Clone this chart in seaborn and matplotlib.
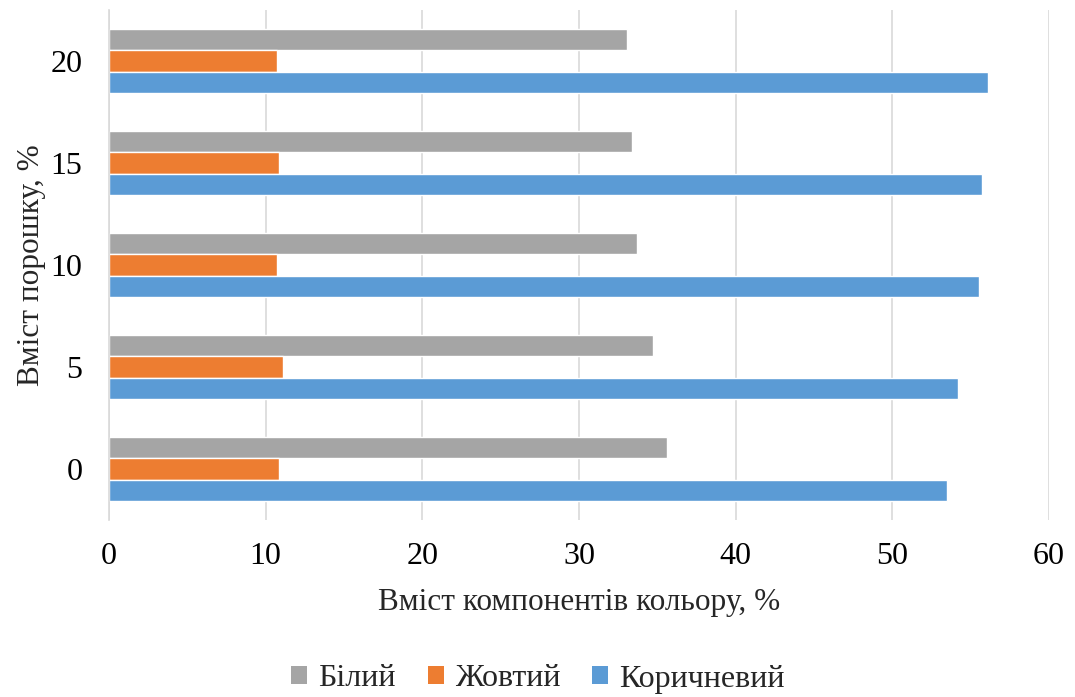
import matplotlib
matplotlib.use("Agg")
import matplotlib.pyplot as plt
import seaborn as sns
import pandas as pd
from matplotlib.patches import Patch

# Powder content levels (%), listed top to bottom
powder = ["20", "15", "10", "5", "0"]
series = ["Білий", "Жовтий", "Коричневий"]
white = [33.06, 33.4, 33.68, 34.7, 35.6]
yellow = [10.74, 10.87, 10.74, 11.08, 10.87]
brown = [56.13, 55.72, 55.51, 54.21, 53.51]
colors = ["#A5A5A5", "#ED7D31", "#5B9BD5"]

df = pd.DataFrame({
    "powder": powder * 3,
    "component": [s for s in series for _ in powder],
    "value": white + yellow + brown,
})

sns.set_theme(style="white")
plt.rcParams["font.family"] = ["Liberation Serif", "DejaVu Serif"]

fig = plt.figure(figsize=(10.75, 6.97), dpi=100)
ax = fig.add_axes([109 / 1075, 1 - 520 / 697, 940 / 1075, 510 / 697])

sns.barplot(data=df, x="value", y="powder", hue="component",
            order=powder, hue_order=series, palette=colors,
            orient="h", width=0.62, dodge=True, saturation=1,
            legend=False, ax=ax)

ax.set_xlim(0, 60)
ax.set_ylim(4.5, -0.5)
ax.set_xticks(range(0, 61, 10))
ax.xaxis.grid(True, color="#D9D9D9", linewidth=1.2)
ax.set_axisbelow(True)
for s in ["top", "right", "bottom"]:
    ax.spines[s].set_visible(False)
ax.spines["left"].set_color("#D9D9D9")
ax.spines["left"].set_linewidth(1.2)
ax.tick_params(axis="both", length=0, labelsize=23, colors="black")
ax.tick_params(axis="x", pad=16)
ax.tick_params(axis="y", pad=19)
ax.set_xlabel("Вміст компонентів кольору, %", fontsize=22.5, labelpad=12)
ax.set_ylabel("Вміст порошку, %", fontsize=22.5, labelpad=3)

handles = [Patch(facecolor=c, edgecolor="none") for c in colors]
fig.legend(handles, series, loc="center", bbox_to_anchor=(538 / 1075, 1 - 679 / 697),
           ncol=3, frameon=False, fontsize=23, handlelength=0.5,
           handleheight=0.5, handletextpad=0.35, columnspacing=1.0)

fig.savefig("out.png", dpi=100, facecolor="white")
